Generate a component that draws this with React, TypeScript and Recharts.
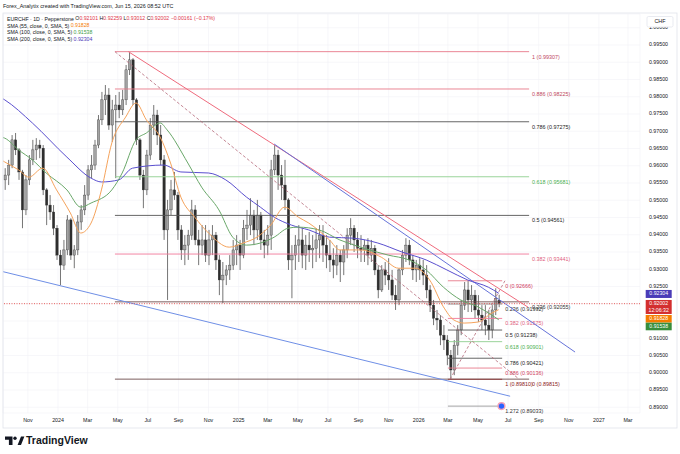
import React from 'react';
import {
  ComposedChart,
  Bar,
  Line,
  XAxis,
  YAxis,
  CartesianGrid,
  ReferenceLine,
  ReferenceDot,
} from 'recharts';

const FONT = '"Liberation Sans", Arial, sans-serif';
const TEXT = '#131722';

// x values are weeks counted from 1 Sep 2023
const START = Date.parse('2023-09-01');
const FIRST_WEEK = 2;

// weekly EURCHF candles, [open, high, low, close]
const candles: number[][] = [
  [0.9559, 0.9593, 0.953, 0.9573], [0.9573, 0.9617, 0.9544, 0.9602], [0.9602, 0.9689, 0.9593, 0.9675],
  [0.9675, 0.9695, 0.9631, 0.9646], [0.9646, 0.9651, 0.9559, 0.9582], [0.9582, 0.9588, 0.9419, 0.9472],
  [0.9472, 0.9573, 0.9457, 0.9559], [0.9559, 0.9631, 0.9544, 0.9617], [0.9617, 0.9675, 0.9602, 0.9646],
  [0.9646, 0.968, 0.9617, 0.966], [0.966, 0.9675, 0.9622, 0.9651], [0.9651, 0.966, 0.9515, 0.953],
  [0.953, 0.9535, 0.9428, 0.9486], [0.9486, 0.9515, 0.9443, 0.9466], [0.9466, 0.9486, 0.9399, 0.9419],
  [0.9419, 0.9428, 0.9327, 0.9341], [0.9341, 0.9356, 0.9254, 0.9312], [0.9312, 0.9385, 0.9298, 0.9356],
  [0.9356, 0.9457, 0.9341, 0.9443], [0.9443, 0.9448, 0.9327, 0.9341], [0.9341, 0.937, 0.9303, 0.9356],
  [0.9356, 0.9457, 0.9341, 0.9437], [0.9437, 0.9486, 0.9414, 0.9472], [0.9472, 0.9544, 0.9457, 0.9515],
  [0.9515, 0.9602, 0.9501, 0.9588], [0.9588, 0.9631, 0.9564, 0.9602], [0.9602, 0.9675, 0.9588, 0.966],
  [0.966, 0.9747, 0.9651, 0.9733], [0.9733, 0.9814, 0.9718, 0.9791], [0.9791, 0.9834, 0.9747, 0.9805],
  [0.9805, 0.9825, 0.9704, 0.9718], [0.9718, 0.9791, 0.9669, 0.9762], [0.9762, 0.9805, 0.9564, 0.9776],
  [0.9776, 0.9814, 0.9738, 0.9762], [0.9762, 0.982, 0.9747, 0.9791], [0.9791, 0.9892, 0.9776, 0.9878],
  [0.9878, 0.993, 0.9863, 0.9907], [0.9907, 0.9912, 0.9776, 0.9791], [0.9791, 0.9796, 0.966, 0.9675],
  [0.9675, 0.968, 0.9559, 0.9573], [0.9573, 0.9588, 0.9477, 0.953], [0.953, 0.9646, 0.9515, 0.9631],
  [0.9631, 0.9738, 0.9617, 0.9718], [0.9718, 0.9776, 0.9689, 0.9747], [0.9747, 0.9762, 0.966, 0.9689],
  [0.9689, 0.9718, 0.9602, 0.9617], [0.9617, 0.9631, 0.9385, 0.9414], [0.9414, 0.9501, 0.9211, 0.9472],
  [0.9472, 0.9559, 0.9457, 0.953], [0.953, 0.9582, 0.9501, 0.9515], [0.9515, 0.9524, 0.9385, 0.9414],
  [0.9414, 0.9428, 0.9327, 0.9356], [0.9356, 0.9399, 0.9312, 0.937], [0.937, 0.9414, 0.9327, 0.9399],
  [0.9399, 0.9501, 0.9385, 0.9472], [0.9472, 0.9486, 0.937, 0.9385], [0.9385, 0.9414, 0.9312, 0.937],
  [0.937, 0.9428, 0.9341, 0.9385], [0.9385, 0.9428, 0.9321, 0.9341], [0.9341, 0.9414, 0.9312, 0.9385],
  [0.9385, 0.9428, 0.9341, 0.9399], [0.9399, 0.9408, 0.9298, 0.9327], [0.9327, 0.9341, 0.9225, 0.9269],
  [0.9269, 0.9321, 0.9202, 0.9283], [0.9283, 0.9312, 0.9254, 0.9298], [0.9298, 0.9341, 0.9269, 0.9312],
  [0.9312, 0.9385, 0.9298, 0.9356], [0.9356, 0.9399, 0.9312, 0.937], [0.937, 0.9385, 0.9298, 0.9341],
  [0.9341, 0.9443, 0.9332, 0.9419], [0.9419, 0.9472, 0.9385, 0.9428], [0.9428, 0.9506, 0.9399, 0.9457],
  [0.9457, 0.9472, 0.937, 0.9414], [0.9414, 0.9501, 0.9385, 0.9457], [0.9457, 0.9466, 0.9356, 0.9385],
  [0.9385, 0.9414, 0.9332, 0.937], [0.937, 0.9428, 0.9341, 0.9399], [0.9399, 0.9617, 0.9356, 0.9588],
  [0.9588, 0.966, 0.9573, 0.9631], [0.9631, 0.9646, 0.953, 0.9573], [0.9573, 0.9602, 0.9501, 0.9544],
  [0.9544, 0.9617, 0.9472, 0.9501], [0.9501, 0.9506, 0.9298, 0.9327], [0.9327, 0.937, 0.9216, 0.9341],
  [0.9341, 0.9399, 0.9298, 0.937], [0.937, 0.9428, 0.9321, 0.9385], [0.9385, 0.9419, 0.9303, 0.9341],
  [0.9341, 0.9399, 0.9298, 0.937], [0.937, 0.9408, 0.9321, 0.9356], [0.9356, 0.9399, 0.9303, 0.9361],
  [0.9361, 0.9419, 0.9321, 0.9385], [0.9385, 0.9428, 0.9332, 0.9399], [0.9399, 0.9428, 0.9321, 0.937],
  [0.937, 0.9399, 0.9303, 0.9341], [0.9341, 0.9385, 0.9292, 0.9327], [0.9327, 0.9361, 0.9274, 0.9312],
  [0.9312, 0.937, 0.9283, 0.9341], [0.9341, 0.9356, 0.9263, 0.9321], [0.9321, 0.937, 0.9283, 0.9356],
  [0.9356, 0.9419, 0.9332, 0.9399], [0.9399, 0.9448, 0.937, 0.9419], [0.9419, 0.9428, 0.935, 0.9385],
  [0.9385, 0.9408, 0.9332, 0.9361], [0.9361, 0.9399, 0.9321, 0.9356], [0.9356, 0.9385, 0.9321, 0.937],
  [0.937, 0.939, 0.9312, 0.9341], [0.9341, 0.9385, 0.9321, 0.9361], [0.9361, 0.937, 0.9283, 0.9298],
  [0.9298, 0.9312, 0.9216, 0.924], [0.924, 0.9312, 0.9234, 0.9298], [0.9298, 0.9321, 0.9254, 0.9283],
  [0.9283, 0.9332, 0.924, 0.9269], [0.9269, 0.9298, 0.9211, 0.9225], [0.9225, 0.9254, 0.9182, 0.9211],
  [0.9211, 0.9303, 0.9196, 0.9298], [0.9298, 0.9356, 0.9283, 0.9341], [0.9341, 0.939, 0.9321, 0.937],
  [0.937, 0.9385, 0.9312, 0.9327], [0.9327, 0.9341, 0.9269, 0.9298], [0.9298, 0.9327, 0.9263, 0.9312],
  [0.9312, 0.9332, 0.9269, 0.9298], [0.9298, 0.9327, 0.9254, 0.9283], [0.9283, 0.9312, 0.9216, 0.924],
  [0.924, 0.9254, 0.9176, 0.9196], [0.9196, 0.9211, 0.9138, 0.9158], [0.9158, 0.9182, 0.9124, 0.9153],
  [0.9153, 0.9167, 0.908, 0.9109], [0.9109, 0.9138, 0.9066, 0.9095], [0.9095, 0.9109, 0.9022, 0.9051],
  [0.9051, 0.9066, 0.8981, 0.9008], [0.9008, 0.9095, 0.8993, 0.908], [0.908, 0.9138, 0.9051, 0.9124],
  [0.9124, 0.9211, 0.9109, 0.9196], [0.9196, 0.9263, 0.9182, 0.924], [0.924, 0.9267, 0.9176, 0.9211],
  [0.9211, 0.9254, 0.9176, 0.9225], [0.9225, 0.924, 0.9158, 0.9182], [0.9182, 0.9225, 0.9147, 0.9167],
  [0.9167, 0.9196, 0.9124, 0.9153], [0.9153, 0.9196, 0.9109, 0.9138], [0.9138, 0.9182, 0.9095, 0.9124],
  [0.9124, 0.9196, 0.91, 0.9182], [0.9182, 0.9245, 0.9167, 0.9216], [0.921, 0.9226, 0.919, 0.92002],
];

// [week, value]
const sma55 = [
  [1, 0.9617], [2, 0.9611], [6, 0.9588], [9, 0.9567], [13, 0.9593], [17, 0.953], [21, 0.9463],
  [24, 0.9405], [27, 0.9434], [30, 0.953], [33, 0.9666], [37, 0.9741], [40, 0.9782], [43, 0.9733],
  [47, 0.9683], [50, 0.9608], [53, 0.9509], [57, 0.9451], [61, 0.9405], [67, 0.9364], [71, 0.9376],
  [75, 0.9393], [79, 0.9428], [83, 0.948], [87, 0.9451], [90, 0.9434], [96, 0.9385], [99, 0.9356],
  [105, 0.9356], [111, 0.9335], [116, 0.9303], [121, 0.9303], [125, 0.9269], [129, 0.9191],
  [132, 0.9153], [135, 0.9144], [139, 0.9147], [143, 0.9173], [145, 0.91828],
];
const sma100 = [
  [1, 0.9683], [2, 0.968], [6, 0.9646], [10, 0.9617], [14, 0.9579], [20, 0.953], [24, 0.948],
  [27, 0.9492], [33, 0.953], [36, 0.9579], [40, 0.9675], [43, 0.9695], [47, 0.9724], [49, 0.9704],
  [55, 0.9608], [59, 0.9538], [64, 0.9472], [68, 0.9393], [72, 0.937], [76, 0.9376], [80, 0.9393],
  [84, 0.9419], [87, 0.9422], [93, 0.9414], [99, 0.9385], [105, 0.9364], [113, 0.9341], [119, 0.9327],
  [124, 0.9298], [129, 0.9248], [134, 0.9211], [139, 0.9191], [143, 0.9167], [145, 0.91538],
];
const sma200 = [
  [1, 0.9797], [2, 0.9791], [10, 0.9724], [20, 0.9625], [27, 0.9564], [30, 0.9553], [35, 0.9559],
  [39, 0.9593], [48, 0.9602], [53, 0.9582], [61, 0.9579], [66, 0.9559], [72, 0.9509], [76, 0.948],
  [80, 0.9451], [85, 0.9428], [90, 0.9414], [96, 0.9393], [103, 0.939], [110, 0.9376], [117, 0.935],
  [124, 0.9327], [130, 0.9298], [136, 0.9269], [142, 0.9248], [145, 0.92304],
];

const priceTicks = [
  0.89, 0.895, 0.9, 0.905, 0.91, 0.915, 0.92, 0.925, 0.93, 0.935, 0.94, 0.945,
  0.95, 0.955, 0.96, 0.965, 0.97, 0.975, 0.98, 0.985, 0.99, 0.995, 1.0,
];

const monthTicks: [string, string][] = [
  ['2023-11-01', 'Nov'], ['2024-01-01', '2024'], ['2024-03-01', 'Mar'], ['2024-05-01', 'May'],
  ['2024-07-01', 'Jul'], ['2024-09-01', 'Sep'], ['2024-11-01', 'Nov'], ['2025-01-01', '2025'],
  ['2025-03-01', 'Mar'], ['2025-05-01', 'May'], ['2025-07-01', 'Jul'], ['2025-09-01', 'Sep'],
  ['2025-11-01', 'Nov'], ['2026-01-01', '2026'], ['2026-03-01', 'Mar'], ['2026-05-01', 'May'],
  ['2026-07-01', 'Jul'], ['2026-09-01', 'Sep'], ['2026-11-01', 'Nov'], ['2027-01-01', '2027'],
  ['2027-03-01', 'Mar'],
];

// fib retracements: [ratio, price]
const upperFib: [string, number][] = [
  ['1', 0.99307], ['0.886', 0.98225], ['0.786', 0.97275], ['0.618', 0.95681],
  ['0.5', 0.94561], ['0.382', 0.93441], ['0.236', 0.92055], ['0', 0.89815],
];
const lowerFib: [string, number][] = [
  ['0', 0.92666], ['0.236', 0.91992], ['0.382', 0.91575], ['0.5', 0.91238], ['0.618', 0.90901],
  ['0.786', 0.90421], ['0.886', 0.90136], ['1', 0.8981], ['1.272', 0.89033],
];
const upperFibWeeks = [33.9, 153.8];
const lowerFibWeeks = [130.3, 146.0];

// trend lines: [[week, price], [week, price]]
const resistanceRed = [[37.8, 0.99307], [153.5, 0.919]];
const resistanceBlue = [[80, 0.9663], [167.1, 0.906]];
const supportBlue = [[1.5, 0.9293], [148.3, 0.8932]];
const upperFibDiagonal = [[33.9, 0.99307], [150.9, 0.89815]];
const lowerFibDiagonal = [[130.9, 0.8981], [146.8, 0.92666]];

const lastPrice = 0.92002;
const countdown = '12:06:32';
const handle = [145.8, 0.89033];

const upperLineColor: Record<string, string> = {
  '1': '#e8798a', '0.886': '#e8798a', '0.786': '#555', '0.618': '#90cf90',
  '0.5': '#555', '0.382': '#f0789a', '0.236': '#6d4c4c', '0': '#6d4c4c',
};
const upperTextColor: Record<string, string> = {
  '1': '#c0485e', '0.886': '#c0485e', '0.786': '#222', '0.618': '#4caf50',
  '0.5': '#222', '0.382': '#e0607e', '0.236': '#333', '0': '#8b1a1a',
};
const lowerLineColor: Record<string, string> = {
  '0': '#e8798a', '0.236': '#888', '0.382': '#f0789a', '0.5': '#555', '0.618': '#90cf90',
  '0.786': '#555', '0.886': '#e8798a', '1': '#8b3a3a', '1.272': '#9a9a9a',
};
const lowerTextColor: Record<string, string> = {
  '0': '#d04060', '0.236': '#333', '0.382': '#e0607e', '0.5': '#222', '0.618': '#4caf50',
  '0.786': '#222', '0.886': '#d04060', '1': '#8b1a1a', '1.272': '#333',
};

const C55 = '#f5a35c';
const C100 = '#6aa86a';
const C200 = '#5a4fcf';

const last = (pts: number[][]) => pts[pts.length - 1][1];
// price range hidden behind the stacked value badges on the right axis
const badgeLow = last(sma100) - 0.003;
const badgeHigh = last(sma200) + 0.0005;

const toWeek = (iso: string) => (Date.parse(iso) - START) / (7 * 86400000);

const candleRows = candles.map(([o, h, l, c], i) => ({ w: FIRST_WEEK + i, o, h, l, c }));
const toRows = (pts: number[][]) => pts.map(([w, v]) => ({ w, v }));
const seg = (pts: number[][]) => pts.map(([x, y]) => ({ x, y })) as any;

const Candle = (props: any) => {
  const { x, y, width, height, payload } = props;
  if (!payload || y == null || height == null) return null;
  const top = Math.min(y, y + height);
  const hgt = Math.abs(height);
  const { o, h, l, c } = payload;
  const span = h - l || 1e-9;
  const py = (v: number) => top + ((h - v) / span) * hgt;
  const up = c >= o;
  const b1 = py(Math.max(o, c));
  const b2 = py(Math.min(o, c));
  const cx = x + width / 2;
  return (
    <g>
      <line x1={cx} x2={cx} y1={top} y2={top + hgt} stroke="#3a3a3a" strokeWidth={0.7} />
      <rect
        x={x}
        y={b1}
        width={width}
        height={Math.max(b2 - b1, 0.7)}
        fill={up ? '#a3a3a3' : '#2e2e2e'}
        stroke="#333"
        strokeWidth={0.35}
      />
    </g>
  );
};

const FibLabel = (props: any) => {
  const { viewBox, text, color } = props;
  if (!viewBox) return null;
  return (
    <text
      x={viewBox.x + viewBox.width + 3}
      y={viewBox.y + 5.5}
      fontSize={5.4}
      fontFamily={FONT}
      fill={color}
      dominantBaseline="middle"
    >
      {text}
    </text>
  );
};

const Badge = (props: any) => {
  const { viewBox, lines, color, dy, h } = props;
  if (!viewBox) return null;
  const x = viewBox.x + viewBox.width + 5.7;
  const top = viewBox.y + dy;
  return (
    <g>
      <rect x={x} y={top} width={26} height={h} fill={color} />
      {lines.map((t: string, i: number) => (
        <text
          key={t}
          x={x + 13}
          y={top + 4 + i * 6.3}
          fontSize={5.2}
          fontFamily={FONT}
          fill="#fff"
          textAnchor="middle"
          dominantBaseline="middle"
        >
          {t}
        </text>
      ))}
    </g>
  );
};

const YTick = (props: any) => {
  const { x, y, payload } = props;
  const v = payload.value;
  if (v > badgeLow && v < badgeHigh) return null;
  return (
    <text x={x + 18.5} y={y} fontSize={5.3} fontFamily={FONT} fill={TEXT} textAnchor="middle" dominantBaseline="middle">
      {v.toFixed(5)}
    </text>
  );
};

const monthLabel = new Map(monthTicks.map(([d, t]) => [toWeek(d).toFixed(4), t]));

const XTick = (props: any) => {
  const { x, y, payload } = props;
  return (
    <text x={x} y={y + 7.5} fontSize={5.3} fontFamily={FONT} fill={TEXT} textAnchor="middle" dominantBaseline="middle">
      {monthLabel.get(Number(payload.value).toFixed(4)) ?? ''}
    </text>
  );
};

const App: React.FC = () => {
  const [w0, w1] = upperFibWeeks;
  const [v0, v1] = lowerFibWeeks;
  return (
    <div style={{ position: 'absolute', left: 0, top: 0, width: 680, height: 454, background: '#fff' }}>
      <ComposedChart
        width={680}
        height={454}
        data={candleRows}
        margin={{ top: 14, right: 3, bottom: 26, left: 3 }}
      >
        <CartesianGrid stroke="#f1f2f6" strokeWidth={0.6} />
        <XAxis
          dataKey="w"
          type="number"
          domain={[1.5, 185.9]}
          allowDataOverflow
          ticks={monthTicks.map(([d]) => toWeek(d))}
          interval={0}
          height={15}
          axisLine={false}
          tickLine={false}
          tickSize={0}
          tickMargin={0}
          tick={<XTick />}
        />
        <YAxis
          orientation="right"
          type="number"
          domain={[0.888333, 1.003986]}
          allowDataOverflow
          ticks={priceTicks}
          interval={0}
          width={37}
          axisLine={false}
          tickLine={false}
          tickSize={0}
          tickMargin={0}
          tick={<YTick />}
        />

        {upperFib.map(([r, p]) => (
          <ReferenceLine
            key={'u' + r}
            segment={seg([[w0, p], [w1, p]])}
            stroke={upperLineColor[r]}
            strokeWidth={0.9}
            label={<FibLabel text={`${r} (${p.toFixed(5)})`} color={upperTextColor[r]} />}
          />
        ))}
        {lowerFib.map(([r, p]) => (
          <ReferenceLine
            key={'l' + r}
            segment={seg([[v0, p], [v1, p]])}
            stroke={lowerLineColor[r]}
            strokeWidth={0.9}
            label={<FibLabel text={`${r} (${p.toFixed(5)})`} color={lowerTextColor[r]} />}
          />
        ))}

        <ReferenceLine segment={seg(upperFibDiagonal)} stroke="#b5697a" strokeWidth={0.8} strokeDasharray="3 2" />
        <ReferenceLine segment={seg(lowerFibDiagonal)} stroke="#b5697a" strokeWidth={0.8} strokeDasharray="3 2" />
        <ReferenceLine segment={seg(resistanceRed)} stroke="#ef6b7d" strokeWidth={1} />
        <ReferenceLine segment={seg(resistanceBlue)} stroke="#6673d9" strokeWidth={1} />
        <ReferenceLine segment={seg(supportBlue)} stroke="#6f8fe6" strokeWidth={1} />

        <Bar
          dataKey={(d: any) => [d.l, d.h]}
          barSize={2.4}
          shape={<Candle />}
          isAnimationActive={false}
        />

        <Line data={toRows(sma200)} dataKey="v" type="monotone" stroke={C200} strokeWidth={1} dot={false} isAnimationActive={false} />
        <Line data={toRows(sma100)} dataKey="v" type="monotone" stroke={C100} strokeWidth={1} dot={false} isAnimationActive={false} />
        <Line data={toRows(sma55)} dataKey="v" type="monotone" stroke={C55} strokeWidth={1} dot={false} isAnimationActive={false} />

        <ReferenceLine
          y={lastPrice}
          stroke="#e53935"
          strokeWidth={0.8}
          strokeDasharray="1 1.5"
          label={<Badge lines={[lastPrice.toFixed(5), countdown]} color="#d32f2f" dy={-3.7} h={14} />}
        />
        <ReferenceLine
          y={last(sma200)}
          stroke="none"
          label={<Badge lines={[last(sma200).toFixed(5)]} color="#4a3cb8" dy={-3.3} h={8} />}
        />
        <ReferenceLine
          y={last(sma55)}
          stroke="none"
          label={<Badge lines={[last(sma55).toFixed(5)]} color="#f57c00" dy={5.3} h={7.6} />}
        />
        <ReferenceLine
          y={last(sma100)}
          stroke="none"
          label={<Badge lines={[last(sma100).toFixed(5)]} color="#388e3c" dy={3} h={7.6} />}
        />
        <ReferenceDot x={handle[0]} y={handle[1]} r={3.4} fill="#2962ff" stroke="#f3a0b8" strokeWidth={1.4} />
      </ComposedChart>

      <svg
        width={680}
        height={454}
        style={{ position: 'absolute', left: 0, top: 0, pointerEvents: 'none' }}
        fontFamily={FONT}
      >
        <rect x={3} y={13} width={674} height={415} fill="none" stroke="#e0e3eb" strokeWidth={0.8} />
        <text x={3} y={6.5} fontSize={5.4} fill={TEXT} dominantBaseline="middle">
          Forex_Analytix created with TradingView.com, Jun 15, 2026 08:52 UTC
        </text>
        <text x={7} y={19.3} fontSize={5.2} fill={TEXT} dominantBaseline="middle">
          EURCHF · 1D · Pepperstone{'  '}
          <tspan>O</tspan><tspan fill="#e0364a">0.92101</tspan>{' '}
          <tspan>H</tspan><tspan fill="#e0364a">0.92259</tspan>{' '}
          <tspan>L</tspan><tspan fill="#e0364a">0.93012</tspan>{' '}
          <tspan>C</tspan><tspan fill="#e0364a">0.92002</tspan>{' '}
          <tspan fill="#e0364a">−0.00161 (−0.17%)</tspan>
        </text>
        <text x={7} y={26.3} fontSize={5.2} fill={TEXT} dominantBaseline="middle">
          SMA (55, close, 0, SMA, 5) <tspan fill="#f57c00">0.91828</tspan>
        </text>
        <text x={7} y={33.1} fontSize={5.2} fill={TEXT} dominantBaseline="middle">
          SMA (100, close, 0, SMA, 5) <tspan fill="#43a047">0.91538</tspan>
        </text>
        <text x={7} y={40} fontSize={5.2} fill={TEXT} dominantBaseline="middle">
          SMA (200, close, 0, SMA, 5) <tspan fill="#4a3cb8">0.92304</tspan>
        </text>
        <rect x={647} y={16.5} width={26} height={10.5} rx={1.5} fill="#fff" stroke="#e0e3eb" strokeWidth={0.7} />
        <text x={660} y={21.8} fontSize={5.4} fill={TEXT} textAnchor="middle" dominantBaseline="middle">
          CHF
        </text>
        <g fill={TEXT}>
          <path d="M5 436.5h7.5v8.5h-3.6v-5.2H5z" />
          <circle cx={15} cy={438.3} r={1.7} />
          <path d="M17.6 445l3.4-8.5h3.4l-3.4 8.5z" />
        </g>
        <text x={26} y={441} fontSize={10.5} fontWeight={700} fill={TEXT} dominantBaseline="middle">
          TradingView
        </text>
      </svg>
    </div>
  );
};

export default App;
